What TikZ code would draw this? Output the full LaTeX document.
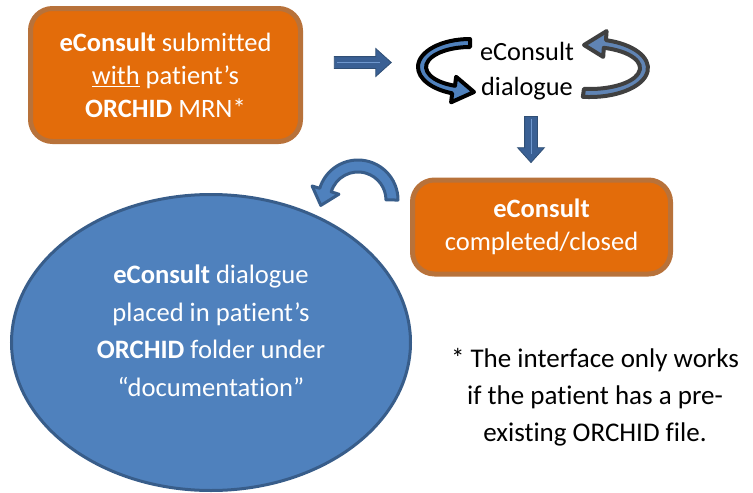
\documentclass[tikz,border=0pt]{standalone}
\usepackage{fontspec}
\setmainfont{Carlito}[Ligatures=NoCommon]
\usetikzlibrary{shapes.geometric,shapes.arrows,calc}

\definecolor{boxorange}{RGB}{227,108,10}
\definecolor{boxrim}{RGB}{184,114,58}
\definecolor{plainblue}{RGB}{79,129,189}
\definecolor{rimblue}{RGB}{56,93,138}
\definecolor{deepblue}{RGB}{58,96,148}
\definecolor{glintblue}{RGB}{112,152,206}
\definecolor{loopgray}{RGB}{64,64,64}
\definecolor{loopblue}{RGB}{96,132,180}

\begin{document}
\begin{tikzpicture}[
            x=1pt, y=-1pt,
            stepbox/.style={
                draw=boxrim, line width=5pt, fill=boxorange,
                rounded corners=22pt, text=white, align=center,
                font=\fontsize{26.5}{33}\selectfont
            },
            folder/.style={
                ellipse, draw=rimblue, line width=3pt, fill=plainblue,
                minimum width=399pt, minimum height=296pt
            },
            flowarrow/.style={
                single arrow, draw=rimblue!85!black, line width=0.8pt, fill=deepblue,
                inner sep=5.5pt, minimum width=27pt, minimum height=57pt,
                single arrow head extend=8pt, single arrow tip angle=84
            },
            glint/.style={
                glintblue, line width=1pt
            },
            turn/.style={
                draw=rimblue, line width=3pt, fill=plainblue, line join=round
            },
            loopdark/.style={
                draw=black, line width=4pt, fill=plainblue, line join=round
            },
            looplight/.style={
                draw=loopgray, line width=4pt, fill=loopblue, line join=round
            }
        ]
        \useasboundingbox (0,0) rectangle (753,493);

        % boxes and texts
        \node[stepbox, minimum width=270pt, minimum height=133pt] (submit) at (165.5,75)
            {\textbf{eConsult} submitted\\\underline{with} patient’s\\\textbf{ORCHID} MRN*};
        \node[align=center, font=\fontsize{26.3}{35}\selectfont] (dialogue) at (527,71)
            {eConsult\\dialogue};
        \node[stepbox, minimum width=258pt, minimum height=94pt] (closed) at (541.5,227)
            {\textbf{eConsult}\\completed/closed};
        \node[folder] (store) at (211,342.5) {};
        \node[align=center, text=white, font=\fontsize{26.6}{37.5}\selectfont] (storetext) at (211,331)
            {\textbf{eConsult} dialogue\\placed in patient’s\\\textbf{ORCHID} folder under\\“documentation”};
        \node[align=center, font=\fontsize{27}{37}\selectfont] (caveat) at (595,397)
            {* The interface only works\\if the patient has a pre-\\existing ORCHID file.};

        % straight arrows
        \node[flowarrow] (go) at (359.5,62.5) {};
        \draw[glint] ($(go.tail)!0.05!(go.tip)$) -- ($(go.tail)!0.8!(go.tip)$);
        \node[flowarrow, minimum width=26pt, minimum height=46pt, inner sep=6pt,
              single arrow head extend=7pt, rotate=-90] (down) at (531,136) {};
        \draw[glint] ($(down.tail)!0.05!(down.tip)$) -- ($(down.tail)!0.8!(down.tip)$);

        % curved arrows
        \draw[loopdark] (470,39)
            arc[start angle=270, end angle=110, x radius=52, y radius=28]
            -- (451.1,102.3) -- (474,92) -- (456.1,76.8) -- (455,85.8)
            arc[start angle=110, end angle=270, x radius=44, y radius=20] -- cycle;
        \draw[looplight] (582.9,96.8)
            arc[start angle=97, end angle=-74, x radius=58, y radius=29]
            -- (606.6,31.1) -- (584,45) -- (603.2,56.9) -- (603.8,47.8)
            arc[start angle=-74, end angle=97, x radius=50, y radius=21] -- cycle;
        \draw[turn] (398,200)
            arc[start angle=360, end angle=197, radius=40]
            -- (312.1,186) -- (320.8,205.4) -- (338.9,194.2) -- (331.2,191.8)
            arc[start angle=197, end angle=360, radius=28] -- cycle;
        \end{tikzpicture}
\end{document}
